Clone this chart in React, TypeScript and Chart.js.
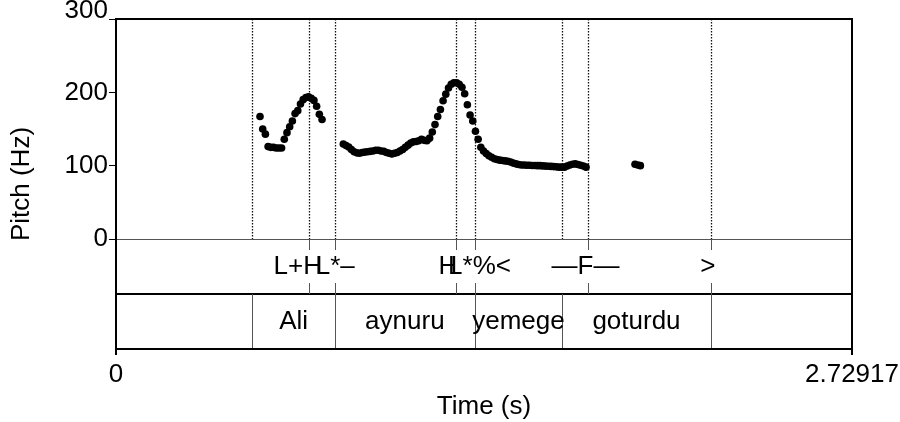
import React, { useEffect, useRef } from "react";
import { Chart, registerables } from "chart.js";

Chart.register(...registerables);

// ---- data ----
const X_MAX = 2.72917;
const Y_MIN = -150;
const Y_MAX = 300;
const TIER_SPLIT = -75;
const Y_TICKS = [0, 100, 200, 300];
const X_TICKS = [0, 2.72917];
const X_TICK_LABELS = ["0", "2.72917"];
const FRAME_STEP = 0.01;

const seg1Start = 0.534;
const seg1Hz = [167, 150, 143, 126, 125, 125, 124, 124, 124, 136, 145, 153, 161, 171, 175, 184, 190, 193, 194, 192, 189, 181, 170, 163];
const seg2Start = 0.8429;
const seg2Hz = [129.5, 127.5, 125.5, 122, 119, 117.5, 117, 118, 118.5, 119, 119.5, 120, 121, 121, 120, 119.5, 118, 117, 116, 117, 118, 120, 122, 125, 128, 131, 132.5, 133, 134, 136, 134.5, 134, 137.5, 146, 156, 167, 176.5, 188.5, 197.5, 206, 211, 213, 213, 211, 207, 198, 183, 169, 161, 147, 136, 125, 120, 116.5, 113.5, 111.5, 109.5, 108.5, 107.5, 107, 106.5, 106, 105, 103.5, 102.5, 101.5, 101, 101, 100.5, 100.5, 100.3, 100.2, 100, 100, 99.7, 99.4, 99.2, 99, 98.7, 98.4, 98, 98, 98, 99.5, 101, 102, 102.5, 101.5, 100.5, 99.5, 98];
const seg3Start = 1.9245;
const seg3Hz = [102, 101, 100];

const tier1Times = [0.7168, 0.8121, 1.2619, 1.3301, 1.7491, 2.2052];
const tier1LabelTimes = [0.674, 0.813, 1.231, 1.348, 1.7408, 2.195];
const tier1Labels = ["L+H", "L*\u2013", "H", "L*%<", "\u2014F\u2014", ">"];
const tier2Bounds = [0.5054, 0.8121, 1.3301, 1.6549, 2.2052];
const tier2Labels = ["", "Ali", "aynuru", "yemege", "goturdu", ""];

const FONT_FAMILY = "'Liberation Sans', Arial, Helvetica, sans-serif";
const FONT_SIZE = 26;

function buildPoints() {
  const pts: { x: number; y: number }[] = [];
  const segs: [number, number[]][] = [
    [seg1Start, seg1Hz],
    [seg2Start, seg2Hz],
    [seg3Start, seg3Hz],
  ];
  for (const [start, vals] of segs) {
    vals.forEach((v, i) => pts.push({ x: start + i * FRAME_STEP, y: v }));
  }
  return pts;
}

const praatPlugin = {
  id: "praatTiers",
  beforeDatasetsDraw(chart: any) {
    const { ctx, chartArea: a, scales } = chart;
    const x = scales.x;
    const y = scales.y;
    const y0 = y.getPixelForValue(0);
    const y1 = y.getPixelForValue(TIER_SPLIT);
    const yb = a.bottom;
    const px = (t: number) => Math.round(x.getPixelForValue(t)) + 0.5;

    ctx.save();
    // dotted lines over the pitch area
    const all = Array.from(new Set([...tier1Times, ...tier2Bounds])).sort((p, q) => p - q);
    ctx.strokeStyle = "#111";
    ctx.lineWidth = 1.3;
    ctx.setLineDash([1.5, 1.5]);
    ctx.beginPath();
    for (const t of all) {
      const xx = px(t);
      ctx.moveTo(xx, a.top);
      ctx.lineTo(xx, y0);
    }
    ctx.stroke();
    ctx.setLineDash([]);

    // tier separators
    ctx.strokeStyle = "#555";
    ctx.lineWidth = 1;
    ctx.beginPath();
    ctx.moveTo(a.left, Math.round(y0) + 0.5);
    ctx.lineTo(a.right, Math.round(y0) + 0.5);
    ctx.stroke();
    ctx.strokeStyle = "#000";
    ctx.lineWidth = 2;
    ctx.beginPath();
    ctx.moveTo(a.left, Math.round(y1));
    ctx.lineTo(a.right, Math.round(y1));
    ctx.stroke();

    // tier 1 point ticks
    ctx.strokeStyle = "#555";
    ctx.lineWidth = 1;
    ctx.beginPath();
    for (const t of tier1Times) {
      const xx = px(t);
      ctx.moveTo(xx, y0);
      ctx.lineTo(xx, y0 + 11);
      ctx.moveTo(xx, y1);
      ctx.lineTo(xx, y1 - 11);
    }
    ctx.stroke();

    // tier 2 boundaries
    ctx.beginPath();
    for (const t of tier2Bounds) {
      const xx = px(t);
      ctx.moveTo(xx, y1);
      ctx.lineTo(xx, yb);
    }
    ctx.stroke();

    // texts
    ctx.fillStyle = "#000";
    ctx.font = `${FONT_SIZE}px ${FONT_FAMILY}`;
    ctx.textAlign = "center";
    ctx.textBaseline = "middle";
    const t1y = (y0 + y1) / 2;
    tier1Labels.forEach((lab, i) => {
      ctx.fillText(lab, x.getPixelForValue(tier1LabelTimes[i]), t1y);
    });
    const t2y = (y1 + yb) / 2;
    const edges = [0, ...tier2Bounds, X_MAX];
    tier2Labels.forEach((lab, i) => {
      if (!lab) return;
      const cx = (x.getPixelForValue(edges[i]) + x.getPixelForValue(edges[i + 1])) / 2;
      ctx.fillText(lab, cx, t2y);
    });
    ctx.restore();
  },
  afterDraw(chart: any) {
    const { ctx, chartArea: a } = chart;
    ctx.save();
    ctx.strokeStyle = "#000";
    ctx.lineWidth = 2;
    ctx.strokeRect(a.left, a.top, a.right - a.left, a.bottom - a.top);
    ctx.restore();
  },
};

export default function App() {
  const canvasRef = useRef<HTMLCanvasElement | null>(null);

  useEffect(() => {
    if (!canvasRef.current) return;
    const font = { family: FONT_FAMILY, size: FONT_SIZE };
    const chart = new Chart(canvasRef.current, {
      type: "scatter",
      data: {
        datasets: [
          {
            data: buildPoints(),
            backgroundColor: "#000",
            borderWidth: 0,
            pointRadius: 3.8,
            pointHoverRadius: 3.8,
            showLine: false,
          },
        ],
      },
      options: {
        animation: false,
        responsive: true,
        maintainAspectRatio: false,
        events: [],
        layout: { padding: { top: 19, right: 48, left: 0, bottom: 0 } },
        plugins: { legend: { display: false }, tooltip: { enabled: false } },
        scales: {
          x: {
            type: "linear",
            min: 0,
            max: X_MAX,
            afterBuildTicks: (s: any) => {
              s.ticks = X_TICKS.map((v) => ({ value: v }));
            },
            afterFit: (s: any) => {
              s.height = 73;
              s.paddingLeft = 0;
              s.paddingRight = 0;
            },
            grid: { drawOnChartArea: false, drawTicks: true, tickLength: 6, lineWidth: 2, color: "#000" },
            border: { display: false },
            ticks: {
              color: "#000",
              font,
              padding: 4,
              maxRotation: 0,
              autoSkip: false,
              callback: (_v: any, i: number) => X_TICK_LABELS[i],
            },
            title: { display: true, text: "Time (s)", color: "#000", font, padding: { top: 0, bottom: 0 } },
          },
          y: {
            type: "linear",
            min: Y_MIN,
            max: Y_MAX,
            afterBuildTicks: (s: any) => {
              s.ticks = Y_TICKS.map((v) => ({ value: v }));
            },
            afterFit: (s: any) => {
              s.width = 116;
              s.paddingTop = 0;
              s.paddingBottom = 0;
            },
            grid: { drawOnChartArea: false, drawTicks: true, tickLength: 7, lineWidth: 1, color: "#000" },
            border: { display: false },
            ticks: {
              color: "#000",
              padding: 1,
              autoSkip: false,
              font: (c: any) => ({
                family: FONT_FAMILY,
                size: FONT_SIZE,
                lineHeight: c && c.tick && c.tick.value === 300 ? 0.6 : 1.2,
              }),
              callback: (v: any) => (v === 300 ? ["300", ""] : String(v)),
            },
            title: { display: true, text: "Pitch (Hz)", color: "#000", font, padding: { top: 6, bottom: 0 } },
          },
        },
      },
      plugins: [praatPlugin],
    } as any);
    return () => chart.destroy();
  }, []);

  return (
    <div style={{ position: "fixed", left: 0, top: 0, width: 900, height: 422, background: "#fff" }}>
      <canvas ref={canvasRef} />
    </div>
  );
}
